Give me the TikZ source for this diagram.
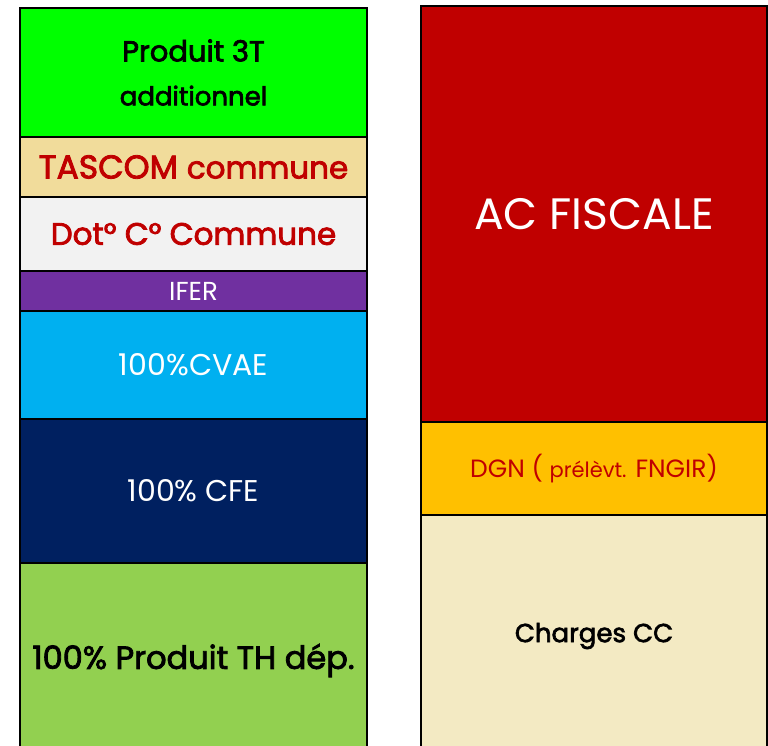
\documentclass[tikz,border=0pt]{standalone}
\usepackage{fontspec}
\setmainfont{Poppins}
\newfontfamily\ftmed[FakeBold=2.5]{Poppins}
\usepackage{tikz}
\usetikzlibrary{positioning}
\definecolor{ftlime}{HTML}{00FF00}
\definecolor{ftwheat}{HTML}{F1DC9B}
\definecolor{ftgrey}{HTML}{F2F2F2}
\definecolor{ftpurple}{HTML}{7030A0}
\definecolor{ftcyan}{HTML}{00B0F0}
\definecolor{ftnavy}{HTML}{002060}
\definecolor{ftgreen}{HTML}{92D050}
\definecolor{ftred}{HTML}{C00000}
\definecolor{ftamber}{HTML}{FFC000}
\definecolor{ftcream}{HTML}{F3EAC3}
\newcommand{\ftsize}[1]{\fontsize{#1}{1.2\dimexpr#1pt\relax}\selectfont}

\begin{document}
\begin{tikzpicture}[x=1pt,y=-1pt,
  ftband/.style={draw=black,line width=1.5pt,minimum width=347pt,inner sep=0pt,
    outer sep=0pt,align=center,anchor=north},
  ftstack/.style={ftband,below=0pt of #1}
]
  \useasboundingbox (0,0) rectangle (768,745);
  \clip (0,0) rectangle (768,745);
  % Left column: recettes
  \node[ftband,fill=ftlime,minimum height=129pt,font=\ftmed\fontsize{29}{44}\selectfont] (l1) at (193.5,8) {
    Produit 3T\\{\fontsize{26}{44}\selectfont additionnel}};
  \node[ftstack=l1,fill=ftwheat,minimum height=60pt,text=ftred,font=\ftmed\ftsize{33}] (l2) {
    TASCOM {\ftsize{31}commune}};
  \node[ftstack=l2,fill=ftgrey,minimum height=74pt,text=ftred,font=\ftmed\ftsize{31}] (l3) {
    Dot° C° Commune};
  \node[ftstack=l3,fill=ftpurple,minimum height=40pt,text=white,font=\ftsize{26}] (l4) {
    IFER};
  \node[ftstack=l4,fill=ftcyan,minimum height=108pt,text=white,font=\ftsize{30}] (l5) {
    100\%CVAE};
  \node[ftstack=l5,fill=ftnavy,minimum height=144pt,text=white,font=\ftsize{30}] (l6) {
    100\% CFE};
  \node[ftstack=l6,fill=ftgreen,minimum height=195pt,font=\ftmed\ftsize{32}] (l7) {
    100\% Produit TH dép.};
  % Right column: dépenses
  \node[ftband,fill=ftred,minimum width=346pt,minimum height=416pt,text=white,font=\ftsize{44}] (r1) at (594,6) {
    AC FISCALE};
  \node[ftstack=r1,fill=ftamber,minimum width=346pt,minimum height=93pt,text=ftred,font=\ftsize{25}] (r2) {
    DGN ( {\ftsize{21}prélèvt.} FNGIR)};
  \node[ftstack=r2,fill=ftcream,minimum width=346pt,minimum height=242pt,font=\ftmed\ftsize{26}] (r3) {
    Charges CC};
\end{tikzpicture}
\end{document}
